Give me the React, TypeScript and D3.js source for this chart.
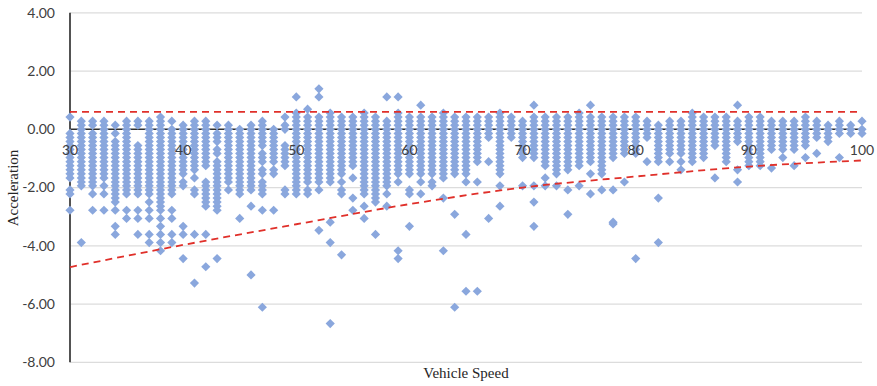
import React from "react";
import * as d3 from "d3";

const speeds = [
  30, 31, 32, 33, 34, 35, 36, 37, 38, 39, 40, 41, 42, 43, 44, 45, 46, 47, 48, 49,
  50, 51, 52, 53, 54, 55, 56, 57, 58, 59, 60, 61, 62, 63, 64, 65, 66, 67, 68, 69,
  70, 71, 72, 73, 74, 75, 76, 77, 78, 79, 80, 81, 82, 83, 84, 85, 86, 87, 88, 89,
  90, 91, 92, 93, 94, 95, 96, 97, 98, 99, 100,
];

// acceleration observations, one list per speed column
const accel: number[][] = [
  [0.42, -0.14, -0.28, -0.42, -0.56, -0.69, -0.83, -0.97, -1.11, -1.25, -1.39, -1.53, -1.67, -2.08, -2.22, -2.78],
  [0.28, 0.14, 0, -0.14, -0.28, -0.42, -0.56, -0.69, -0.83, -0.97, -1.11, -1.25, -1.39, -1.53, -1.67, -1.81, -1.94, -3.89],
  [0.28, 0.14, -0.14, -0.28, -0.42, -0.56, -0.69, -0.83, -0.97, -1.11, -1.25, -1.39, -1.53, -1.67, -1.81, -1.94, -2.22, -2.78],
  [0.28, 0.14, 0, -0.14, -0.28, -0.42, -0.56, -0.69, -0.83, -0.97, -1.11, -1.25, -1.39, -1.53, -1.67, -1.94, -2.22, -2.78],
  [0.14, -0.14, -0.42, -0.56, -0.69, -0.83, -0.97, -1.11, -1.25, -1.39, -1.53, -1.67, -1.81, -1.94, -2.08, -2.22, -2.36, -2.5, -2.78, -3.33, -3.61],
  [0.28, 0.14, 0, -0.14, -0.28, -0.42, -0.56, -0.69, -0.83, -0.97, -1.11, -1.25, -1.39, -1.53, -1.67, -1.81, -1.94, -2.08, -2.22, -2.78, -3.06],
  [0.28, 0.14, -0.56, -0.69, -0.83, -0.97, -1.11, -1.25, -1.39, -1.53, -1.67, -1.81, -1.94, -2.08, -2.22, -2.78, -3.06, -3.61],
  [0.28, 0.14, 0, -0.14, -0.28, -0.42, -0.56, -0.69, -0.83, -0.97, -1.11, -1.25, -1.39, -1.53, -1.67, -1.81, -1.94, -2.08, -2.22, -2.5, -2.78, -3.06, -3.61, -3.89],
  [0.42, 0.28, 0.14, 0, -0.14, -0.28, -0.42, -0.56, -0.69, -0.83, -0.97, -1.11, -1.25, -1.39, -1.53, -1.67, -1.81, -1.94, -2.08, -2.22, -2.36, -2.5, -2.64, -2.78, -3.06, -3.33, -3.61, -3.89, -4.17],
  [0.28, 0, -0.14, -0.28, -0.42, -0.56, -0.69, -0.83, -0.97, -1.11, -1.25, -1.39, -1.53, -1.67, -1.81, -1.94, -2.08, -2.22, -2.78, -3.06, -3.61, -3.89],
  [0.14, 0, -0.14, -0.28, -0.42, -0.56, -0.69, -0.83, -0.97, -1.11, -1.25, -1.39, -1.53, -1.81, -1.94, -3.33, -3.61, -4.44],
  [0.28, 0.14, 0, -0.14, -0.28, -0.42, -0.56, -0.69, -0.83, -0.97, -1.11, -1.25, -1.39, -1.67, -2.08, -2.22, -3.61, -5.28],
  [0.28, 0.14, 0, -0.14, -0.28, -0.42, -0.56, -0.69, -0.83, -0.97, -1.11, -1.25, -1.81, -1.94, -2.08, -2.22, -2.36, -2.5, -2.64, -3.61, -4.72],
  [0.14, -0.14, -0.28, -0.42, -0.69, -0.83, -1.11, -1.25, -1.39, -1.53, -1.67, -1.81, -1.94, -2.08, -2.22, -2.36, -2.5, -2.64, -2.78, -4.44],
  [0.14, 0, -0.14, -0.28, -0.42, -0.56, -0.69, -0.83, -0.97, -1.11, -1.25, -1.39, -1.53, -1.67, -1.81, -2.08],
  [0, -0.14, -0.28, -0.42, -0.56, -0.69, -0.83, -0.97, -1.11, -1.25, -1.39, -1.53, -1.67, -1.81, -1.94, -2.08, -2.22, -3.06],
  [0.14, 0, -0.14, -0.28, -0.42, -0.56, -0.69, -0.83, -0.97, -1.11, -1.25, -1.39, -1.53, -1.67, -1.81, -1.94, -2.08, -2.64, -5.0],
  [0.28, 0.14, 0, -0.14, -0.28, -0.42, -0.56, -0.83, -0.97, -1.11, -1.39, -1.53, -1.81, -1.94, -2.08, -2.22, -2.78, -6.11],
  [0, -0.14, -0.28, -0.42, -0.56, -0.69, -0.83, -0.97, -1.11, -1.39, -1.53, -2.78],
  [0.42, 0.14, 0, -0.56, -0.69, -0.83, -0.97, -1.11, -1.25, -2.08, -2.22],
  [1.11, 0.56, 0.42, 0.28, 0.14, 0, -0.14, -0.28, -0.42, -0.56, -0.69, -0.83, -0.97, -1.11, -1.25, -1.39, -1.53, -1.67, -1.81, -1.94, -2.08, -2.22],
  [0.69, 0.42, 0.28, 0.14, 0, -0.14, -0.28, -0.42, -0.56, -0.69, -0.83, -0.97, -1.11, -1.25, -1.39, -1.53, -1.67, -1.81, -2.08, -2.22],
  [1.39, 1.11, 0.42, 0.28, 0.14, 0, -0.14, -0.28, -0.42, -0.56, -0.69, -0.83, -0.97, -1.11, -1.25, -1.39, -1.53, -1.67, -1.81, -2.08, -3.47],
  [0.56, 0.42, 0.28, 0.14, 0, -0.14, -0.28, -0.42, -0.56, -0.69, -0.83, -0.97, -1.11, -1.25, -1.39, -1.53, -1.67, -1.81, -3.19, -3.89, -6.67],
  [0.42, 0.28, 0.14, 0, -0.14, -0.28, -0.42, -0.56, -0.69, -0.83, -0.97, -1.11, -1.25, -1.39, -1.53, -1.81, -2.08, -2.22, -4.31],
  [0.42, 0.28, 0.14, 0, -0.14, -0.28, -0.42, -0.56, -0.69, -0.83, -0.97, -1.11, -1.25, -1.67, -2.36, -2.78],
  [0.56, 0.42, 0.28, 0.14, 0, -0.14, -0.28, -0.42, -0.56, -0.69, -0.83, -0.97, -1.11, -1.25, -1.39, -1.53, -1.67, -1.81, -1.94, -2.08, -2.22, -2.64, -3.06],
  [0.42, 0.28, 0.14, 0, -0.14, -0.28, -0.42, -0.56, -0.69, -0.83, -0.97, -1.11, -1.25, -1.39, -1.53, -1.67, -1.81, -1.94, -2.08, -2.22, -2.36, -2.5, -3.61],
  [1.11, 0.28, 0.14, 0, -0.14, -0.28, -0.42, -0.56, -0.69, -0.83, -0.97, -1.11, -1.25, -1.39, -1.53, -1.67, -1.81, -1.94, -2.22, -2.64],
  [1.11, 0.56, 0.42, 0.28, 0.14, 0, -0.14, -0.28, -0.42, -0.56, -0.69, -0.83, -0.97, -1.11, -1.25, -1.39, -1.53, -1.81, -4.17, -4.44],
  [0.42, 0.28, 0.14, 0, -0.14, -0.28, -0.42, -0.56, -0.69, -0.83, -0.97, -1.11, -1.25, -1.39, -1.53, -2.08, -2.22, -3.33],
  [0.83, 0.42, 0.28, 0.14, 0, -0.14, -0.28, -0.42, -0.56, -0.69, -0.83, -0.97, -1.11, -1.25, -1.39, -1.53, -1.81, -2.22],
  [0.42, 0.28, 0.14, 0, -0.14, -0.28, -0.42, -0.56, -0.69, -0.83, -0.97, -1.11, -1.25, -1.39, -1.53, -1.81, -1.94],
  [0.56, 0.42, 0.28, 0.14, 0, -0.14, -0.28, -0.42, -0.56, -0.69, -0.83, -0.97, -1.11, -1.25, -1.39, -1.53, -1.67, -2.36, -4.17],
  [0.42, 0.28, 0.14, 0, -0.14, -0.28, -0.42, -0.56, -0.69, -0.83, -0.97, -1.11, -1.25, -1.39, -1.53, -2.92, -6.11],
  [0.42, 0.28, 0.14, 0, -0.14, -0.28, -0.42, -0.56, -0.69, -0.83, -0.97, -1.11, -1.25, -1.39, -1.53, -1.81, -3.61, -5.56],
  [0.42, 0.28, 0.14, 0, -0.14, -0.28, -0.42, -0.56, -0.69, -0.83, -0.97, -1.11, -1.81, -5.56],
  [0.42, 0.28, 0.14, 0, -0.14, -0.28, -1.11, -3.06],
  [0.56, 0.42, 0.28, 0.14, 0, -0.14, -0.28, -0.42, -0.56, -0.69, -0.83, -0.97, -1.11, -1.25, -1.39, -1.53, -1.94, -2.64],
  [0.42, 0.28, 0.14, 0, -0.14, -0.28],
  [0.28, 0.14, 0, -0.14, -0.28, -0.42, -0.56, -0.69, -0.83, -0.97, -1.94],
  [0.83, 0.42, 0.28, 0.14, 0, -0.14, -0.28, -0.42, -0.56, -0.69, -0.83, -0.97, -1.94, -2.5, -3.33],
  [0.42, 0.28, 0.14, 0, -0.14, -0.28, -0.42, -0.56, -0.69, -0.83, -0.97, -1.11, -1.25, -1.67, -1.94],
  [0.42, 0.28, 0.14, 0, -0.14, -0.28, -0.42, -0.56, -0.69, -0.83, -0.97, -1.11, -1.25, -1.39, -1.53, -1.94],
  [0.42, 0.28, 0.14, 0, -0.14, -0.28, -0.42, -0.56, -0.69, -0.83, -0.97, -1.11, -1.25, -1.39, -2.08, -2.92],
  [0.56, 0.42, 0.28, 0.14, 0, -0.14, -0.28, -0.42, -0.56, -0.69, -0.83, -0.97, -1.11, -1.25, -1.94],
  [0.83, 0.42, 0.28, 0.14, 0, -0.14, -0.28, -0.42, -0.56, -0.69, -0.83, -0.97, -1.11, -1.53, -2.22],
  [0.42, 0.28, 0.14, 0, -0.14, -0.28, -0.42, -0.56, -0.69, -0.83, -0.97, -1.11, -1.25, -1.39, -1.53, -2.08],
  [0.42, 0.28, 0.14, 0, -0.14, -0.28, -0.42, -0.56, -0.69, -0.83, -0.97, -2.08, -3.19, -3.25],
  [0.42, 0.28, 0.14, 0, -0.14, -0.28, -0.42, -0.56, -0.69, -0.83, -1.81],
  [0.42, 0.28, 0.14, 0, -0.14, -0.28, -0.42, -0.56, -0.69, -0.83, -4.44],
  [0.28, 0.14, 0, -0.14, -0.28, -1.11],
  [0.14, 0, -0.14, -0.28, -0.42, -0.56, -0.69, -0.83, -0.97, -1.11, -2.36, -3.89],
  [0.28, 0.14, 0, -0.14, -0.28, -0.42, -0.56, -0.69, -0.83, -1.11],
  [0.28, 0.14, 0, -0.14, -0.28, -0.42, -0.56, -0.69, -0.83, -1.11, -1.39],
  [0.56, 0.42, 0.28, 0.14, 0, -0.14, -0.28, -0.42, -0.56, -0.69, -0.83, -0.97, -1.11],
  [0.42, 0.28, 0.14, 0, -0.14, -0.28, -0.42, -0.56, -0.69, -0.83, -0.97],
  [0.42, 0.28, 0.14, 0, -0.14, -0.28, -0.42, -0.56, -1.67],
  [0.42, 0.28, 0.14, 0, -0.14, -0.28, -0.42, -0.56, -0.69, -0.83, -0.97, -1.11],
  [0.83, 0.28, 0.14, 0, -0.14, -0.28, -0.42, -1.39, -1.81],
  [0.42, 0.28, 0.14, 0, -0.14, -0.28, -0.42, -0.56, -0.69, -0.83, -0.97, -1.11, -1.25],
  [0.42, 0.28, 0.14, 0, -0.14, -0.28, -0.42, -0.56, -0.69, -0.83, -0.97, -1.11, -1.25],
  [0.28, 0.14, 0, -0.14, -0.28, -0.42, -0.56, -0.69, -1.33],
  [0.28, 0.14, 0, -0.14, -0.28, -0.42, -0.56, -0.69, -0.97],
  [0.28, 0.14, 0, -0.14, -0.28, -0.42, -0.56, -0.69, -1.25],
  [0.42, 0.28, 0.14, 0, -0.14, -0.28, -0.42, -0.56, -0.97],
  [0.28, 0.14, 0, -0.14, -0.28, -0.83],
  [0.14, 0, -0.14, -0.28, -0.42],
  [0.28, 0.14, 0, -0.14, -0.97],
  [0.14, 0, -0.14],
  [0.28, 0, -0.14],
];

// red dashed reference lines
const upperLimit = 0.6;
const limitSpeeds = [30, 40, 50, 60, 70, 80, 90, 100];
const lowerLimit = [-4.73, -3.97, -3.26, -2.57, -2.0, -1.62, -1.28, -1.07];

const xTicks = [30, 40, 50, 60, 70, 80, 90, 100];
const yTicks = [4, 2, 0, -2, -4, -6, -8];

const W = 877;
const H = 386;

export default function App() {
  const x = d3.scaleLinear().domain([30, 100]).range([70, 862]);
  const y = d3.scaleLinear().domain([-8, 4]).range([362.3, 12.8]);

  const points: { s: number; v: number }[] = [];
  speeds.forEach((s, i) => {
    (accel[i] || []).forEach((v) => points.push({ s, v }));
  });

  const r = 4.6;
  const diamond = `M0,${-r}L${r},0L0,${r}L${-r},0Z`;

  const lowerLine = d3
    .line<number>()
    .x((_, i) => x(limitSpeeds[i]))
    .y((d) => y(d))
    .curve(d3.curveMonotoneX)(lowerLimit) as string;

  const tickFont = "Lato, 'Open Sans', sans-serif";
  const titleFont = "'Liberation Serif', 'Times New Roman', serif";

  return (
    <svg
      width={W}
      height={H}
      viewBox={`0 0 ${W} ${H}`}
      style={{ position: "absolute", left: 0, top: 0, background: "#fff" }}
    >
      <rect x={0} y={0} width={W} height={H} fill="#fff" />
      {/* gridlines */}
      {yTicks
        .filter((t) => t !== 0)
        .map((t) => (
          <line
            key={`g${t}`}
            x1={x(30)}
            x2={x(100)}
            y1={y(t)}
            y2={y(t)}
            stroke="#dcdcdc"
            strokeWidth={1.3}
          />
        ))}
      {/* axes */}
      <line x1={x(30)} x2={x(100)} y1={y(0)} y2={y(0)} stroke="#303030" strokeWidth={1.6} />
      <line x1={x(30)} x2={x(30)} y1={y(4)} y2={y(-8)} stroke="#404040" strokeWidth={1.8} />

      {/* points */}
      <g fill="#8aa7dd">
        {points.map((p, i) => (
          <path key={i} d={diamond} transform={`translate(${x(p.s)},${y(p.v)})`} />
        ))}
      </g>

      {/* reference lines */}
      <line
        x1={x(30)}
        x2={x(100)}
        y1={y(upperLimit)}
        y2={y(upperLimit)}
        stroke="#e0302a"
        strokeWidth={1.8}
        strokeDasharray="7,5"
      />
      <path d={lowerLine} fill="none" stroke="#e0302a" strokeWidth={1.8} strokeDasharray="7,5" />

      {/* y tick labels */}
      {yTicks.map((t) => (
        <text
          key={`yt${t}`}
          x={55}
          y={y(t)}
          dy="0.35em"
          textAnchor="end"
          fontFamily={tickFont}
          fontSize={14}
          fill="#404040"
        >
          {t.toFixed(2)}
        </text>
      ))}
      {/* x tick labels */}
      {xTicks.map((t) => (
        <text
          key={`xt${t}`}
          x={x(t)}
          y={y(0) + 21}
          dy="0.35em"
          textAnchor="middle"
          fontFamily={tickFont}
          fontSize={14}
          fill="#404040"
        >
          {t}
        </text>
      ))}

      {/* axis titles */}
      <text
        x={466}
        y={378}
        textAnchor="middle"
        fontFamily={titleFont}
        fontSize={15}
        fill="#262626"
      >
        Vehicle Speed
      </text>
      <text
        transform={`translate(18,188) rotate(-90)`}
        textAnchor="middle"
        fontFamily={titleFont}
        fontSize={15}
        fill="#262626"
      >
        Acceleration
      </text>
    </svg>
  );
}
